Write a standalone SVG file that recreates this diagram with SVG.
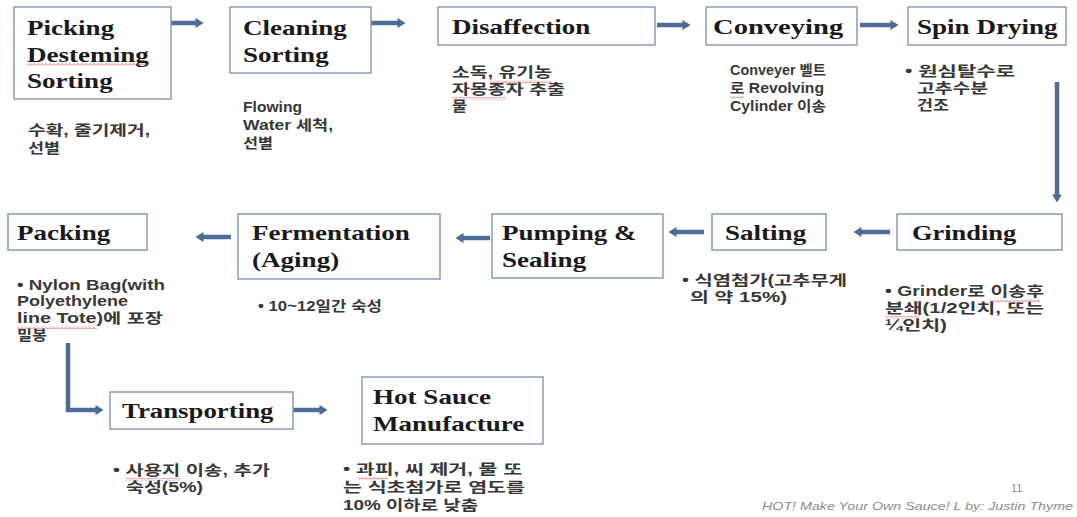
<svg xmlns="http://www.w3.org/2000/svg" width="1077" height="517" viewBox="0 0 1077 517">
<defs>
<style>
.box{fill:#ffffff;stroke:#8a9bb4;stroke-width:1.5}
.t{font-family:"Liberation Serif","Times New Roman",serif;font-weight:bold;font-size:22px;fill:#1a1a1a}
.b{font-family:"Liberation Sans","Noto Sans CJK KR",sans-serif;font-size:14px;font-weight:bold;fill:#383838}
.con{fill:none;stroke:#4d6d98;stroke-width:4.5}
.ft{font-family:"Liberation Sans",Arial,sans-serif;fill:#8c8c8c}
.sq{fill:url(#sq)}
</style>
<marker id="ah" viewBox="0 0 8 10" refX="0.5" refY="5" markerWidth="1.8" markerHeight="2.3" orient="auto" markerUnits="strokeWidth">
<path d="M0 0 L8 5 L0 10 z" fill="#4d6d98"/>
</marker>
<pattern id="sq" width="4" height="3" patternUnits="userSpaceOnUse">
<path d="M0 2.5 L2 0.5 L4 2.5" fill="none" stroke="#e04040" stroke-width="0.8"/>
</pattern>
</defs>
<rect width="1077" height="517" fill="#ffffff"/>

<g id="connectors">
<line class="con" x1="169" y1="23" x2="196" y2="23" marker-end="url(#ah)"/>
<line class="con" x1="369" y1="23" x2="398" y2="23" marker-end="url(#ah)"/>
<line class="con" x1="657" y1="25" x2="683" y2="25" marker-end="url(#ah)"/>
<line class="con" x1="860" y1="25" x2="891" y2="25" marker-end="url(#ah)"/>
<line class="con" x1="1057" y1="82" x2="1057" y2="195" marker-end="url(#ah)"/>
<line class="con" x1="890" y1="232" x2="861" y2="232" marker-end="url(#ah)"/>
<line class="con" x1="704" y1="232" x2="676" y2="232" marker-end="url(#ah)"/>
<line class="con" x1="490" y1="238" x2="463" y2="238" marker-end="url(#ah)"/>
<line class="con" x1="231" y1="237" x2="203" y2="237" marker-end="url(#ah)"/>
<polyline class="con" points="68,343 68,410 96,410" marker-end="url(#ah)"/>
<line class="con" x1="293" y1="410" x2="320" y2="410" marker-end="url(#ah)"/>
</g>

<g id="n-picking">
<rect class="box" x="14" y="7" width="157" height="92"/>
<text class="t" transform="translate(27 35) scale(1.23 1)"><tspan x="0" y="0">Picking</tspan><tspan x="0" y="27">Desteming</tspan><tspan x="0" y="53">Sorting</tspan></text>
<rect class="sq" x="27" y="63" width="121" height="3"/>
<text class="b" x="28" y="135" textLength="122" lengthAdjust="spacingAndGlyphs">수확, 줄기제거,</text>
<text class="b" x="28" y="153" textLength="32" lengthAdjust="spacingAndGlyphs">선별</text>
</g>

<g id="n-cleaning">
<rect class="box" x="230" y="7" width="141" height="66"/>
<text class="t" transform="translate(243 35) scale(1.23 1)"><tspan x="0" y="0">Cleaning</tspan><tspan x="0" y="27">Sorting</tspan></text>
<text class="b" x="243" y="112" textLength="59" lengthAdjust="spacingAndGlyphs">Flowing</text>
<text class="b" x="243" y="130" textLength="90" lengthAdjust="spacingAndGlyphs">Water 세척,</text>
<text class="b" x="243" y="148" textLength="30" lengthAdjust="spacingAndGlyphs">선별</text>
</g>

<g id="n-disaffection">
<rect class="box" x="438" y="7" width="217" height="38"/>
<text class="t" transform="translate(452 34) scale(1.23 1)">Disaffection</text>
<text class="b" x="452" y="77" textLength="100" lengthAdjust="spacingAndGlyphs">소독, 유기농</text>
<text class="b" x="452" y="94" textLength="113" lengthAdjust="spacingAndGlyphs">자몽종자 추출</text>
<text class="b" x="452" y="111" textLength="15" lengthAdjust="spacingAndGlyphs">물</text>
<rect class="sq" x="490" y="80" width="62" height="3"/>
<rect class="sq" x="452" y="97" width="54" height="3"/>
</g>

<g id="n-conveying">
<rect class="box" x="706" y="7" width="151" height="38"/>
<text class="t" transform="translate(713 34) scale(1.3 1)">Conveying</text>
<text class="b" x="730" y="75" textLength="96" lengthAdjust="spacingAndGlyphs">Conveyer 벨트</text>
<text class="b" x="730" y="93" textLength="94" lengthAdjust="spacingAndGlyphs">로 Revolving</text>
<text class="b" x="730" y="111" textLength="96" lengthAdjust="spacingAndGlyphs">Cylinder 이송</text>
<rect class="sq" x="730" y="96" width="14" height="3"/>
</g>

<g id="n-spin">
<rect class="box" x="908" y="7" width="158" height="38"/>
<text class="t" transform="translate(917 34) scale(1.23 1)">Spin Drying</text>
<text class="b" x="905" y="76" textLength="110" lengthAdjust="spacingAndGlyphs">• 원심탈수로</text>
<text class="b" x="917" y="93" textLength="71" lengthAdjust="spacingAndGlyphs">고추수분</text>
<text class="b" x="917" y="110" textLength="32" lengthAdjust="spacingAndGlyphs">건조</text>
</g>

<g id="n-grinding">
<rect class="box" x="897" y="214" width="165" height="36"/>
<text class="t" transform="translate(912 240) scale(1.2 1)">Grinding</text>
<text class="b" x="885" y="296" textLength="159" lengthAdjust="spacingAndGlyphs">• Grinder로 이송후</text>
<text class="b" x="885" y="313" textLength="159" lengthAdjust="spacingAndGlyphs">분쇄(1/2인치, 또는</text>
<text class="b" x="885" y="330" textLength="62" lengthAdjust="spacingAndGlyphs">¼인치)</text>
<rect class="sq" x="990" y="299" width="50" height="3"/>
<rect class="sq" x="885" y="316" width="34" height="3"/>
</g>

<g id="n-salting">
<rect class="box" x="712" y="214" width="114" height="36"/>
<text class="t" transform="translate(725 240) scale(1.23 1)">Salting</text>
<text class="b" x="682" y="285" textLength="165" lengthAdjust="spacingAndGlyphs">• 식염첨가(고추무게</text>
<text class="b" x="690" y="302" textLength="97" lengthAdjust="spacingAndGlyphs">의 약 15%)</text>
</g>

<g id="n-pumping">
<rect class="box" x="492" y="214" width="171" height="64"/>
<text class="t" transform="translate(502 240) scale(1.23 1)"><tspan x="0" y="0">Pumping &amp;</tspan><tspan x="0" y="27">Sealing</tspan></text>
</g>

<g id="n-fermentation">
<rect class="box" x="238" y="214" width="202" height="65"/>
<text class="t" transform="translate(252 240) scale(1.23 1)"><tspan x="0" y="0">Fermentation</tspan><tspan x="0" y="27">(Aging)</tspan></text>
<text class="b" x="258" y="311" textLength="124" lengthAdjust="spacingAndGlyphs">• 10~12일간 숙성</text>
</g>

<g id="n-packing">
<rect class="box" x="8" y="214" width="139" height="36"/>
<text class="t" transform="translate(17 240) scale(1.23 1)">Packing</text>
<text class="b" x="17" y="290" textLength="148" lengthAdjust="spacingAndGlyphs">• Nylon Bag(with</text>
<text class="b" x="17" y="306" textLength="111" lengthAdjust="spacingAndGlyphs">Polyethylene</text>
<text class="b" x="17" y="323" textLength="146" lengthAdjust="spacingAndGlyphs">line Tote)에 포장</text>
<text class="b" x="17" y="340" textLength="30" lengthAdjust="spacingAndGlyphs">밀봉</text>
<rect class="sq" x="17" y="326" width="80" height="3"/>
</g>

<g id="n-transporting">
<rect class="box" x="110" y="392" width="183" height="37"/>
<text class="t" transform="translate(122 418) scale(1.22 1)">Transporting</text>
<text class="b" x="113" y="475" textLength="157" lengthAdjust="spacingAndGlyphs">• 사용지 이송, 추가</text>
<text class="b" x="126" y="492" textLength="77" lengthAdjust="spacingAndGlyphs">숙성(5%)</text>
<rect class="sq" x="126" y="478" width="54" height="3"/>
</g>

<g id="n-hotsauce">
<rect class="box" x="362" y="377" width="181" height="67"/>
<text class="t" transform="translate(373 404) scale(1.23 1)"><tspan x="0" y="0">Hot Sauce</tspan><tspan x="0" y="27">Manufacture</tspan></text>
<text class="b" x="343" y="474" textLength="179" lengthAdjust="spacingAndGlyphs">• 과피, 씨 제거, 물 또</text>
<text class="b" x="343" y="492" textLength="182" lengthAdjust="spacingAndGlyphs">는 식초첨가로 염도를</text>
<text class="b" x="343" y="510" textLength="135" lengthAdjust="spacingAndGlyphs">10% 이하로 낮춤</text>
<rect class="sq" x="358" y="477" width="30" height="3"/>
</g>

<g id="footer">
<text class="ft" x="1011" y="492" font-size="11">11</text>
<text class="ft" x="762" y="510" font-size="11" font-style="italic" textLength="311" lengthAdjust="spacingAndGlyphs">HOT! Make Your Own Sauce! L by: Justin Thyme</text>
</g>
</svg>
